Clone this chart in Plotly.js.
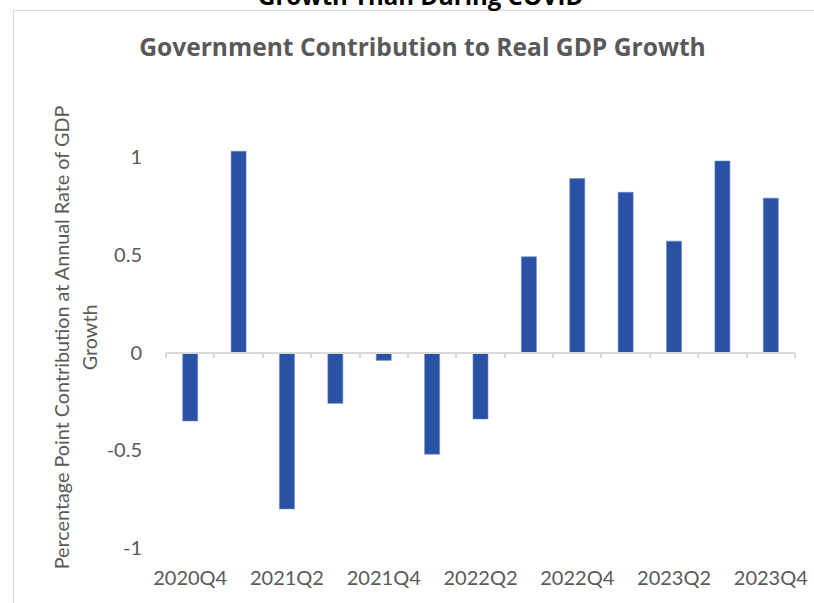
<!DOCTYPE html>
<html>
<head>
<meta charset="utf-8">
<script src="https://cdn.plot.ly/plotly-3.0.1.min.js"></script>
<style>
  html, body { margin: 0; padding: 0; background: #ffffff; overflow: hidden; }
  #frame { position: absolute; left: 13px; top: 10px; width: 900px; height: 700px;
           border-left: 1.5px solid #d9d9d9; border-top: 1.5px solid #d9d9d9; }
  #chart { position: absolute; left: 0; top: 0; width: 814px; height: 603px; }
</style>
</head>
<body>
<div id="frame"></div>
<div id="chart"></div>
<script>
// ---- data ----
const categories = ['2020Q4','2021Q1','2021Q2','2021Q3','2021Q4','2022Q1','2022Q2',
                    '2022Q3','2022Q4','2023Q1','2023Q2','2023Q3','2023Q4'];
const contribution = [-0.35, 1.03, -0.80, -0.26, -0.04, -0.52, -0.34,
                      0.49, 0.89, 0.82, 0.57, 0.98, 0.79];
const xTickLabels = ['2020Q4','2021Q2','2021Q4','2022Q2','2022Q4','2023Q2','2023Q4'];
const yTickValues = [-1, -0.5, 0, 0.5, 1];
const yTickLabels = ['-1', '-0.5', '0', '0.5', '1'];
const chartTitle = 'Government Contribution to Real GDP Growth';
const clippedTitle = 'Growth Than During COVID';
const yTitleLine1 = 'Percentage Point Contribution at Annual Rate of GDP';
const yTitleLine2 = 'Growth';

const textColor = '#595959';
const fontFam = 'Lato, "Open Sans", sans-serif';
const titleFam = '"Open Sans", Lato, sans-serif';
const yMin = -1, yMax = 1.2;

const traces = [
  {
    type: 'bar',
    x: categories,
    y: contribution,
    xaxis: 'x',
    yaxis: 'y',
    width: 0.31,
    marker: { color: '#2a52a4', line: { color: '#6b86c0', width: 0.6 } },
    hoverinfo: 'x+y',
    showlegend: false
  },
  {
    type: 'scatter',
    mode: 'none',
    x: categories,
    y: contribution,
    xaxis: 'x2',
    yaxis: 'y',
    hoverinfo: 'skip',
    showlegend: false
  }
];

const layout = {
  width: 814,
  height: 603,
  margin: { l: 166, r: 19, t: 118, b: 55 },
  paper_bgcolor: 'rgba(0,0,0,0)',
  plot_bgcolor: 'rgba(0,0,0,0)',
  font: { family: fontFam, color: textColor },
  title: {
    text: chartTitle,
    font: { family: titleFam, size: 24.6, color: textColor, weight: 'bold' },
    xref: 'container', yref: 'container',
    x: 0.519, xanchor: 'center',
    y: 0.921, yanchor: 'middle'
  },
  xaxis: {
    type: 'category',
    categoryorder: 'array',
    categoryarray: categories,
    range: [-0.5, categories.length - 0.5],
    anchor: 'free',
    position: (0 - yMin) / (yMax - yMin),
    showline: true, linecolor: '#d9d9d9', linewidth: 1.5,
    ticks: 'outside', tickson: 'boundaries', ticklen: 5,
    tickcolor: '#d9d9d9', tickwidth: 1.5,
    showticklabels: false, showgrid: false, zeroline: false,
    fixedrange: true
  },
  xaxis2: {
    type: 'category',
    categoryorder: 'array',
    categoryarray: categories,
    range: [-0.5, categories.length - 0.5],
    overlaying: 'x',
    anchor: 'y',
    side: 'bottom',
    tickmode: 'array',
    tickvals: xTickLabels,
    ticktext: xTickLabels,
    ticks: 'outside', ticklen: 12, tickcolor: 'rgba(0,0,0,0)',
    tickfont: { family: fontFam, size: 20, color: textColor },
    showline: false, showgrid: false, zeroline: false,
    fixedrange: true
  },
  yaxis: {
    range: [yMin, yMax],
    tickmode: 'array',
    tickvals: yTickValues,
    ticktext: yTickLabels,
    ticks: 'outside', ticklen: 19, tickcolor: 'rgba(0,0,0,0)',
    tickfont: { family: fontFam, size: 20, color: textColor },
    showline: false, showgrid: false, zeroline: false,
    fixedrange: true
  },
  annotations: [
    {
      text: yTitleLine1,
      xref: 'paper', yref: 'paper',
      x: 0, y: 0.49, xshift: -105,
      xanchor: 'center', yanchor: 'middle',
      textangle: -90, showarrow: false,
      font: { family: fontFam, size: 19.8, color: textColor }
    },
    {
      text: yTitleLine2,
      xref: 'paper', yref: 'paper',
      x: 0, y: 0.49, xshift: -77,
      xanchor: 'center', yanchor: 'middle',
      textangle: -90, showarrow: false,
      font: { family: fontFam, size: 19.8, color: textColor }
    },
    {
      text: clippedTitle,
      xref: 'paper', yref: 'paper',
      x: (420 - 166) / 629, y: 1, yshift: 104,
      xanchor: 'center', yanchor: 'bottom',
      showarrow: false,
      font: { family: titleFam, size: 24, color: '#000000', weight: 'bold' }
    }
  ]
};

Plotly.newPlot('chart', traces, layout, { displayModeBar: false });
</script>
</body>
</html>
